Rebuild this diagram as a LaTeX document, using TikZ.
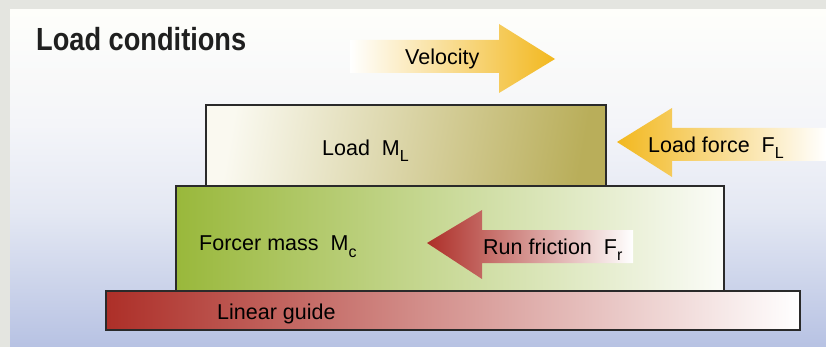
\documentclass[tikz,border=0pt]{standalone}
\usepackage{fontspec}
\setmainfont{Liberation Sans}
\newfontfamily\titlefont[FakeStretch=0.85]{Liberation Sans}
\definecolor{frame}{HTML}{E4E5E0}
\definecolor{bgtop}{HTML}{FEFEFA}
\definecolor{bgmid}{HTML}{F4F5F9}
\definecolor{bgmidb}{HTML}{E4E8F3}
\definecolor{bgbot}{HTML}{B7C2E3}
\definecolor{edge}{HTML}{2A2A2A}
\definecolor{olive}{HTML}{B9AE5A}
\definecolor{cream}{HTML}{FAF9F0}
\definecolor{leaf}{HTML}{99B83B}
\definecolor{leafend}{HTML}{FBFCF8}
\definecolor{brick}{HTML}{AD2F28}
\definecolor{gold}{HTML}{F2B81F}
\pgfdeclareverticalshading{panelshade}{100bp}{color(0bp)=(bgbot); color(25bp)=(bgbot); color(45bp)=(bgmidb); color(58bp)=(bgmid); color(75bp)=(bgtop); color(100bp)=(bgtop)}
\newcommand{\lowsub}[1]{\raisebox{-6pt}{\fontsize{16}{16}\selectfont #1}}
\tikzset{
  blockbox/.style={draw=edge, line width=2.4pt},
  lbl/.style={anchor=base west, inner sep=0pt, font=\fontsize{21.5}{24}\selectfont, text=black},
  titlelbl/.style={anchor=base west, inner sep=0pt, font=\titlefont\bfseries\fontsize{32}{34}\selectfont, text=black!88},
}
\begin{document}
\begin{tikzpicture}[x=1pt, y=-1pt]
\useasboundingbox (0,0) rectangle (826,347);
% background frame and panel
\fill[frame] (0,0) rectangle (826,347);
\shade[shading=panelshade] (10,10) rectangle (826,347);
% title
\node[titlelbl] (title) at (36,51) {Load conditions};
% blocks
\shade[left color=brick, right color=white] (106,291) rectangle (800,330);
\draw[blockbox] (106,291) rectangle (800,330);
\shade[left color=leaf, right color=leafend] (176,186) rectangle (724,291);
\draw[blockbox] (176,186) rectangle (724,291);
\shade[left color=cream, right color=olive, shading angle=80] (206,105) rectangle (606,186);
\draw[blockbox] (206,105) rectangle (606,186);
% arrows
\shade[left color=white, right color=gold] (350,40) -- (499,40) -- (499,24) -- (555,59) -- (499,93) -- (499,73) -- (350,73) -- cycle;
\shade[left color=gold, right color=white] (617,142) -- (672,108) -- (672,128) -- (826,128) -- (826,161) -- (672,161) -- (672,177) -- cycle;
\shade[left color=brick, right color=white] (427,243) -- (482,210) -- (482,230) -- (633,230) -- (633,263) -- (482,263) -- (482,279) -- cycle;
% labels
\node[lbl] (vel) at (405,65) {Velocity};
\node[lbl] (loadm) at (322,156) {Load\ \ M\lowsub{L}};
\node[lbl] (loadf) at (648,153) {Load force\ \ F\lowsub{L}};
\node[lbl] (fric) at (483,254) {Run friction\ \ F\lowsub{r}};
\node[lbl] (forcer) at (199,251) {Forcer mass\ \ M\lowsub{c}};
\node[lbl] (guide) at (217,319) {Linear guide};
\end{tikzpicture}
\end{document}
